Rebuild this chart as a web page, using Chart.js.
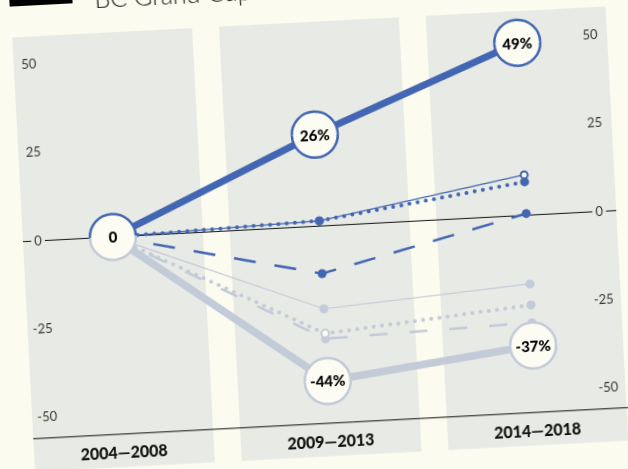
<!DOCTYPE html>
<html>
<head>
<meta charset="utf-8">
<script src="https://cdn.jsdelivr.net/npm/chart.js@4.4.1/dist/chart.umd.min.js"></script>
<style>
  html, body { margin: 0; padding: 0; background: #fbfbef; overflow: hidden; }
  body { width: 628px; height: 469px; position: relative; }
  #wrap {
    position: absolute; left: -36px; top: -36px;
    width: 700px; height: 540px;
    transform: rotate(-3deg); transform-origin: 50% 50%;
  }
</style>
</head>
<body>
<div id="wrap"><canvas id="chart" width="700" height="540"></canvas></div>
<script>
// data (% change vs 2004-2008)
const periods = ['2004—2008', '2009—2013', '2014—2018'];
const yTicks = [-50, -25, 0, 25, 50];
const blueThick = [0, 26, 49];
const blueSolid = [0, 1.5, 11.5];
const blueDotted = [0, 1.5, 9.5];
const blueDashed = [0, -13.5, 0.5];
const greyThick = [0, -44, -37];
const greySolid = [0, -23.5, -19.5];
const greyDotted = [0, -30.5, -25.5];
const greyDashed = [0, -32, -30.5];

const blue = '#4266b2';
const grey = '#c3cad8';
const cream = '#fcfcf2';
const bandColor = '#e8eae5';
const bandHalf = 0.435;

const toXY = arr => arr.map((v, i) => ({ x: i, y: v }));

const backdrop = {
  id: 'backdrop',
  beforeDraw(chart) {
    const { ctx, chartArea } = chart;
    const xs = chart.scales.x, ys = chart.scales.y;
    ctx.save();
    ctx.fillStyle = bandColor;
    periods.forEach((_, i) => {
      const l = xs.getPixelForValue(i - bandHalf);
      const r = xs.getPixelForValue(i + bandHalf);
      ctx.fillRect(l, chartArea.top, r - l, chartArea.bottom + 33 - chartArea.top);
    });
    const x0 = xs.getPixelForValue(-bandHalf);
    const x1 = xs.getPixelForValue(periods.length - 1 + bandHalf);
    const y0 = ys.getPixelForValue(0);
    ctx.strokeStyle = '#111';
    ctx.lineWidth = 1;
    ctx.beginPath();
    ctx.moveTo(x0, y0);
    ctx.lineTo(x1, y0);
    ctx.moveTo(x0, chartArea.bottom);
    ctx.lineTo(chart.width, chartArea.bottom);
    ctx.stroke();

    // header, mostly cut off by the page edge
    ctx.fillStyle = '#000';
    ctx.fillRect(58, 0, 63, 27);
    ctx.fillStyle = '#222';
    ctx.font = '300 25px Lato';
    ctx.textBaseline = 'alphabetic';
    ctx.fillText('BC Grand Cup', 143, 33);
    ctx.restore();
  }
};

const badges = {
  id: 'badges',
  afterDatasetsDraw(chart) {
    const { ctx } = chart;
    const up = chart.getDatasetMeta(0).data;
    const down = chart.getDatasetMeta(4).data;
    const r = 23;
    ctx.save();
    const circle = (pt, topColor, bottomColor) => {
      ctx.fillStyle = cream;
      ctx.beginPath();
      ctx.arc(pt.x, pt.y, r, 0, Math.PI * 2);
      ctx.fill();
      ctx.lineWidth = 2.5;
      ctx.strokeStyle = topColor;
      ctx.beginPath();
      ctx.arc(pt.x, pt.y, r, Math.PI, Math.PI * 2);
      ctx.stroke();
      ctx.strokeStyle = bottomColor;
      ctx.beginPath();
      ctx.arc(pt.x, pt.y, r, 0, Math.PI);
      ctx.stroke();
    };
    const label = (pt, v) => {
      ctx.fillStyle = '#000';
      ctx.font = '900 15px Lato';
      ctx.textAlign = 'center';
      ctx.textBaseline = 'middle';
      ctx.fillText(v === 0 ? '0' : v + '%', pt.x, pt.y + 1);
    };
    down.forEach((pt, i) => {
      if (i === 0) return;
      circle(pt, grey, grey);
      label(pt, greyThick[i]);
    });
    up.forEach((pt, i) => {
      circle(pt, blue, i === 0 ? grey : blue);
      label(pt, blueThick[i]);
    });
    ctx.restore();
  }
};

const yAxis = (position, width) => ({
  type: 'linear',
  position,
  min: -56,
  max: 58,
  grid: { display: false, drawTicks: false },
  border: { display: false },
  afterBuildTicks: axis => { axis.ticks = yTicks.map(v => ({ value: v })); },
  afterFit: axis => { axis.width = width; },
  ticks: {
    padding: 4,
    crossAlign: 'center',
    color: '#3a3a3a',
    font: { family: 'Lato', size: 13 },
    showLabelBackdrop: true,
    backdropColor: bandColor,
    backdropPadding: { left: 3, right: 3, top: 0, bottom: 0 }
  }
});

const chart = new Chart(document.getElementById('chart'), {
  type: 'line',
  data: {
    datasets: [
      {
        label: 'blueThick', data: toXY(blueThick),
        borderColor: blue, borderWidth: 7, pointRadius: 0
      },
      {
        label: 'blueSolid', data: toXY(blueSolid),
        borderColor: blue, borderWidth: 1.2,
        pointRadius: [0, 4.5, 3.5],
        pointBackgroundColor: [blue, blue, cream],
        pointBorderColor: blue,
        pointBorderWidth: [0, 0, 2]
      },
      {
        label: 'blueDotted', data: toXY(blueDotted),
        borderColor: blue, borderWidth: 4,
        borderDash: [0, 8.3], borderCapStyle: 'round',
        pointRadius: [0, 4.5, 4.5],
        pointBackgroundColor: blue, pointBorderWidth: 0
      },
      {
        label: 'blueDashed', data: toXY(blueDashed),
        borderColor: blue, borderWidth: 2.5,
        borderDash: [22, 19],
        pointRadius: [0, 4.5, 4.5],
        pointBackgroundColor: blue, pointBorderWidth: 0
      },
      {
        label: 'greyThick', data: toXY(greyThick),
        borderColor: grey, borderWidth: 7.5, pointRadius: 0
      },
      {
        label: 'greySolid', data: toXY(greySolid),
        borderColor: grey, borderWidth: 1.2,
        pointRadius: [0, 4.5, 4.5],
        pointBackgroundColor: grey, pointBorderWidth: 0
      },
      {
        label: 'greyDotted', data: toXY(greyDotted),
        borderColor: grey, borderWidth: 4,
        borderDash: [0, 8.3], borderCapStyle: 'round',
        pointRadius: [0, 3.8, 4.5],
        pointBackgroundColor: [grey, cream, grey],
        pointBorderColor: grey,
        pointBorderWidth: [0, 2, 0]
      },
      {
        label: 'greyDashed', data: toXY(greyDashed),
        borderColor: grey, borderWidth: 2.5,
        borderDash: [18, 22],
        pointRadius: [0, 4.5, 4.5],
        pointBackgroundColor: grey, pointBorderWidth: 0
      }
    ]
  },
  options: {
    responsive: false,
    animation: false,
    layout: { padding: { top: 58, bottom: 43, left: 0, right: 0 } },
    plugins: { legend: { display: false }, tooltip: { enabled: false } },
    elements: { line: { tension: 0, fill: false } },
    scales: {
      x: {
        type: 'linear',
        min: -0.2947,
        max: 2.285,
        grid: { display: false, drawTicks: false },
        border: { display: false },
        afterBuildTicks: axis => { axis.ticks = periods.map((_, i) => ({ value: i })); },
        ticks: {
          padding: 9,
          color: '#111',
          font: { family: 'Lato', size: 16, weight: '900' },
          callback: v => periods[v]
        }
      },
      y: yAxis('left', 88),
      y2: yAxis('right', 78)
    }
  },
  plugins: [backdrop, badges]
});
</script>
</body>
</html>
